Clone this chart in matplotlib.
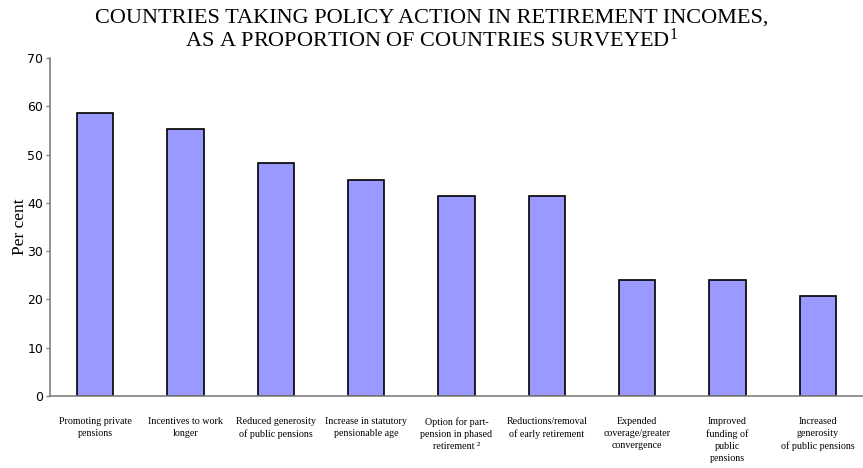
import numpy as np
import matplotlib.pyplot as plt

plt.rcParams["mathtext.fontset"] = "custom"
plt.rcParams["mathtext.rm"] = "Liberation Serif"
plt.rcParams["mathtext.default"] = "rm"

categories = ["Promoting private\npensions",
              "Incentives to work\nlonger",
              "Reduced generosity\nof public pensions",
              "Increase in statutory\npensionable age",
              "Option for part-\npension in phased\nretirement \u00b2",
              "Reductions/removal\nof early retirement",
              "Expended\ncoverage/greater\nconvergence",
              "Improved\nfunding of\npublic\npensions",
              "Increased\ngenerosity\nof public pensions"]
values = [58.6, 55.2, 48.3, 44.8, 41.4, 41.4, 24.1, 24.1, 20.7]
yticks = [0, 10, 20, 30, 40, 50, 60, 70]

fig = plt.figure(figsize=(8.63, 4.68), dpi=100)
ax = fig.add_axes([50/863, 1 - 396/468, 813/863, (396-58)/468])

x = np.arange(len(categories))
ax.bar(x, values, width=0.4, color="#9999ff", edgecolor="black", linewidth=1.2)
ax.set_xlim(-0.5, len(categories) - 0.5)
ax.set_ylim(0, 70)
ax.set_yticks(yticks)
ax.set_yticklabels([str(t) for t in yticks], fontsize=9, family="DejaVu Sans")
ax.set_xticks(x)
ax.set_xticklabels(categories, fontsize=7.2, family="Liberation Serif", linespacing=1.45)
ax.tick_params(axis="x", length=0, pad=15)
ax.tick_params(axis="y", length=3, width=1, color="#808080", pad=2)
for side in ["top", "right"]:
    ax.spines[side].set_visible(False)
for side in ["left", "bottom"]:
    ax.spines[side].set_color("#808080")
    ax.spines[side].set_linewidth(1.2)

ax.set_ylabel("Per cent", fontsize=12.5, family="Liberation Serif", labelpad=-1)

fig.text(0.5, 0.962, "COUNTRIES TAKING POLICY ACTION IN RETIREMENT INCOMES,",
         ha="center", va="center", fontsize=16, family="Liberation Serif")
fig.text(0.5, 0.915, "AS A PROPORTION OF COUNTRIES SURVEYED$^1$",
         ha="center", va="center", fontsize=16, family="Liberation Serif")

fig.savefig("out.png", dpi=100)
